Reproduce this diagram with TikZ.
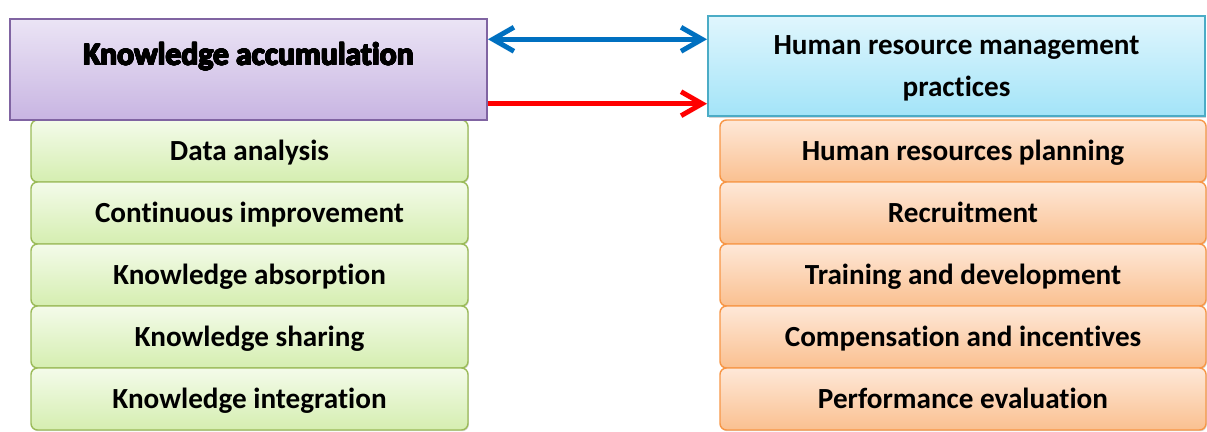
\documentclass[tikz,border=0pt]{standalone}
\usepackage{fontspec}
\setmainfont{Carlito}[Ligatures=NoCommon]
\usepackage{contour}
\usetikzlibrary{arrows.meta,shadows}

\definecolor{kaline}{HTML}{8064A2}
\definecolor{katop}{HTML}{EBE4F5}
\definecolor{kabot}{HTML}{C8B5E2}
\definecolor{hrline}{HTML}{4BACC6}
\definecolor{hrtop}{HTML}{E0F6FD}
\definecolor{hrbot}{HTML}{A3E4F8}
\definecolor{grline}{HTML}{9BBB59}
\definecolor{grtop}{HTML}{F4FBEA}
\definecolor{grbot}{HTML}{D5EEB0}
\definecolor{orline}{HTML}{F79646}
\definecolor{ortop}{HTML}{FEE8D8}
\definecolor{orbot}{HTML}{FAC090}
\definecolor{arrblue}{HTML}{0070C0}

\tikzset{
  headbox/.style={draw,line width=1.1pt,minimum height=2.01cm,
    drop shadow={shadow xshift=0.6pt,shadow yshift=-0.8pt,opacity=0.35},
    inner sep=0pt,align=center,font=\fontsize{16.6}{24}\selectfont\bfseries},
  itembox/.style={draw,line width=0.8pt,rounded corners=0.13cm,minimum height=1.24cm,
    drop shadow={shadow xshift=0.5pt,shadow yshift=-0.7pt,opacity=0.3},
    text height=0.52cm,text depth=0.13cm,
    inner sep=0pt,font=\fontsize{16.6}{19}\selectfont\bfseries},
  barb/.tip={Straight Barb[length=0.42cm,width=0.48cm,line width=2.8pt]},
  link/.style={line width=2.8pt}
}

\begin{document}
\begin{tikzpicture}[thin,black]
\useasboundingbox (0,0) rectangle (24.14,-8.64);

% knowledge side
\foreach \txt [count=\i] in {Data analysis,Continuous improvement,Knowledge absorption,Knowledge sharing,Knowledge integration}{
\node[itembox,
    draw=grline,
    top color=grtop,bottom color=grbot,
    minimum width=8.74cm] (kn\i) at (4.99,-1.78-1.24*\i){\txt};
}

% hrm side
\foreach \txt [count=\i] in {Human resources planning,Recruitment,Training and development,Compensation and incentives,Performance evaluation}{
\node[itembox,
    draw=orline,
    top color=ortop,bottom color=orbot,
    minimum width=9.72cm] (hr\i) at (19.26,-1.78-1.24*\i){\txt};
}

\contourlength{0.35pt}
\node[headbox,
    draw=kaline,
    top color=katop,bottom color=kabot,
    minimum width=9.54cm,
    text depth=0.62cm,
    font=\fontsize{18}{22}\selectfont\bfseries] (ka) at (4.97,-1.39){\contour{black}{Knowledge accumulation}};

\node[headbox,
    draw=hrline,
    top color=hrtop,bottom color=hrbot,
    minimum width=9.94cm,
    text depth=0pt] (hrm) at (19.13,-1.32){Human resource management\\practices};

\draw[link,arrblue,barb-barb] ([yshift=-0.42cm]ka.north east) -- ([yshift=-0.42cm]ka.north east -| hrm.west);
\draw[link,red,-barb] ([yshift=0.34cm]ka.south east) -- ([yshift=0.34cm]ka.south east -| hrm.west);

\end{tikzpicture}
\end{document}
